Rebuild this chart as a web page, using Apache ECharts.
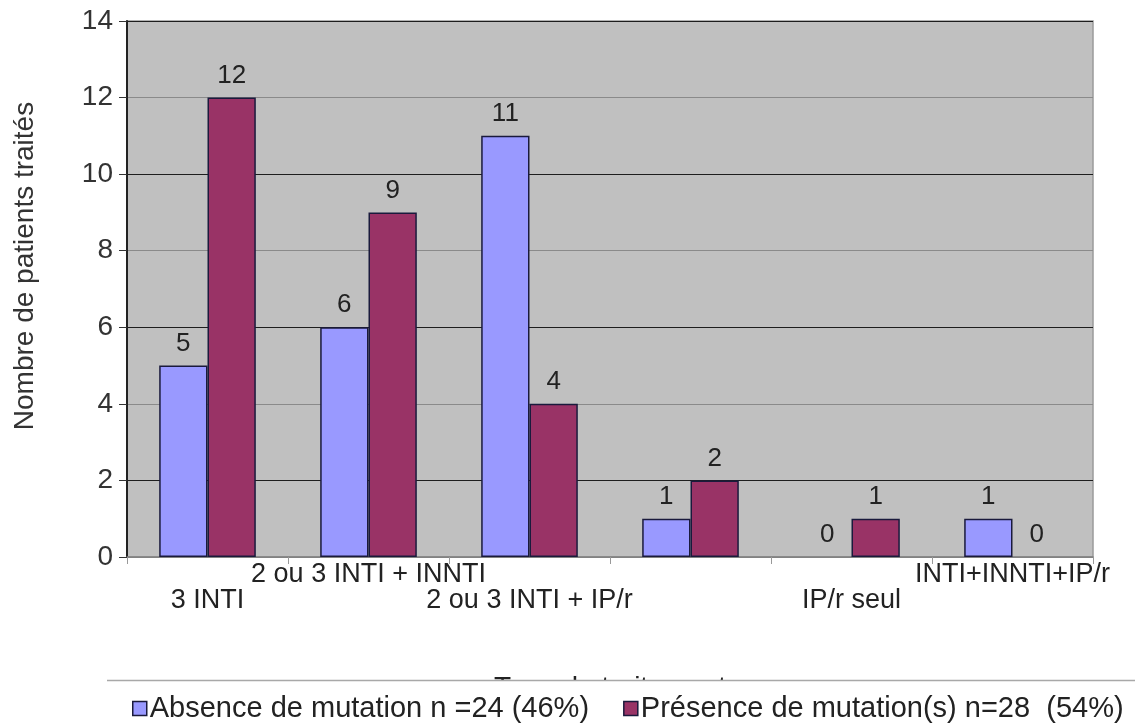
<!DOCTYPE html>
<html>
<head>
<meta charset="utf-8">
<script src="https://cdn.jsdelivr.net/npm/echarts@6/dist/echarts.min.js"></script>
<style>
  html, body { margin: 0; padding: 0; background: #fff; }
  #chart { width: 1135px; height: 726px; }
</style>
</head>
<body>
<div id="chart"></div>
<script>
// Treatment groups (the fourth group carries no printed label)
const categories = ['3 INTI', '2 ou 3 INTI + INNTI', '2 ou 3 INTI + IP/r', '', 'IP/r seul', 'INTI+INNTI+IP/r'];
// Patients without detected mutation
const absence = [5, 6, 11, 1, 0, 1];
// Patients with mutation(s)
const presence = [12, 9, 4, 2, 1, 0];
const seriesNames = ['Absence de mutation n =24 (46%)', 'Présence de mutation(s) n=28  (54%)'];
const yTicks = { min: 0, max: 14, step: 2 };

const FONT = '"Liberation Sans", Arial, sans-serif';
const chart = echarts.init(document.getElementById('chart'), null, { renderer: 'canvas' });

const labelStyle = {
  show: true,
  position: 'top',
  distance: 9,
  fontFamily: FONT,
  fontSize: 26,
  color: '#222'
};

// empty bars get no outline so nothing is drawn along the baseline
const toItems = values => values.map(v => (v === 0 ? { value: v, itemStyle: { borderWidth: 0 } } : v));

chart.setOption({
  animation: false,
  backgroundColor: '#fff',
  textStyle: { fontFamily: FONT },
  grid: {
    left: 127, right: 42, top: 21, bottom: 169,
    show: true,
    backgroundColor: '#c0c0c0',
    borderColor: '#9a9a9a',
    borderWidth: 1.5
  },
  // legend panel: white box whose top edge is a thin rule
  graphic: [{
    type: 'line',
    z: 100,
    shape: { x1: 107, y1: 680.5, x2: 1135, y2: 680.5 },
    style: { stroke: '#a8a8a8', lineWidth: 1.5 }
  }],
  legend: {
    data: seriesNames,
    left: 107,
    top: 680,
    width: 1300,
    orient: 'horizontal',
    icon: 'rect',
    itemWidth: 14,
    itemHeight: 14,
    itemGap: 34,
    padding: [14, 40, 40, 25],
    backgroundColor: '#fff',
    borderWidth: 0,
    itemStyle: { borderColor: '#1a1a3c', borderWidth: 1.5 },
    textStyle: { fontFamily: FONT, fontSize: 29, color: '#222', padding: [0, 0, 0, -2] }
  },
  xAxis: {
    type: 'category',
    data: categories,
    name: 'Type de traitement',
    nameLocation: 'middle',
    nameGap: 117,
    nameTextStyle: { fontFamily: FONT, fontSize: 28, color: '#222' },
    axisLine: { lineStyle: { color: '#808080', width: 1.5 } },
    axisTick: { show: true, alignWithLabel: false, length: 7, lineStyle: { color: '#999' } },
    axisLabel: {
      interval: 0,
      margin: 5,
      fontFamily: FONT,
      fontSize: 27,
      lineHeight: 26,
      color: '#222',
      // alternate labels sit on a second row so long names do not collide
      formatter: (value, index) => (index % 2 === 0 ? '\n' + value : value)
    },
    splitLine: { show: false }
  },
  yAxis: {
    type: 'value',
    min: yTicks.min,
    max: yTicks.max,
    interval: yTicks.step,
    name: 'Nombre de patients traités',
    nameLocation: 'middle',
    nameGap: 88,
    nameTextStyle: { fontFamily: FONT, fontSize: 28, color: '#333', padding: [0, 0, 0, 46] },
    axisLine: { show: true, lineStyle: { color: '#222', width: 2 } },
    axisTick: { show: true, length: 8, lineStyle: { color: '#333' } },
    axisLabel: { fontFamily: FONT, fontSize: 28, color: '#333', margin: 14 },
    splitLine: { show: true, lineStyle: { color: ['#8a8a8a', '#1e1e1e'], width: 1.2 } }
  },
  series: [
    {
      name: seriesNames[0],
      type: 'bar',
      data: toItems(absence),
      barGap: '0%',
      barCategoryGap: '40%',
      itemStyle: { color: '#9999ff', borderColor: '#1a1a3c', borderWidth: 1.5 },
      label: labelStyle
    },
    {
      name: seriesNames[1],
      type: 'bar',
      data: toItems(presence),
      barGap: '0%',
      barCategoryGap: '40%',
      itemStyle: { color: '#993366', borderColor: '#1a1a3c', borderWidth: 1.5 },
      label: labelStyle
    }
  ]
});
</script>
</body>
</html>
